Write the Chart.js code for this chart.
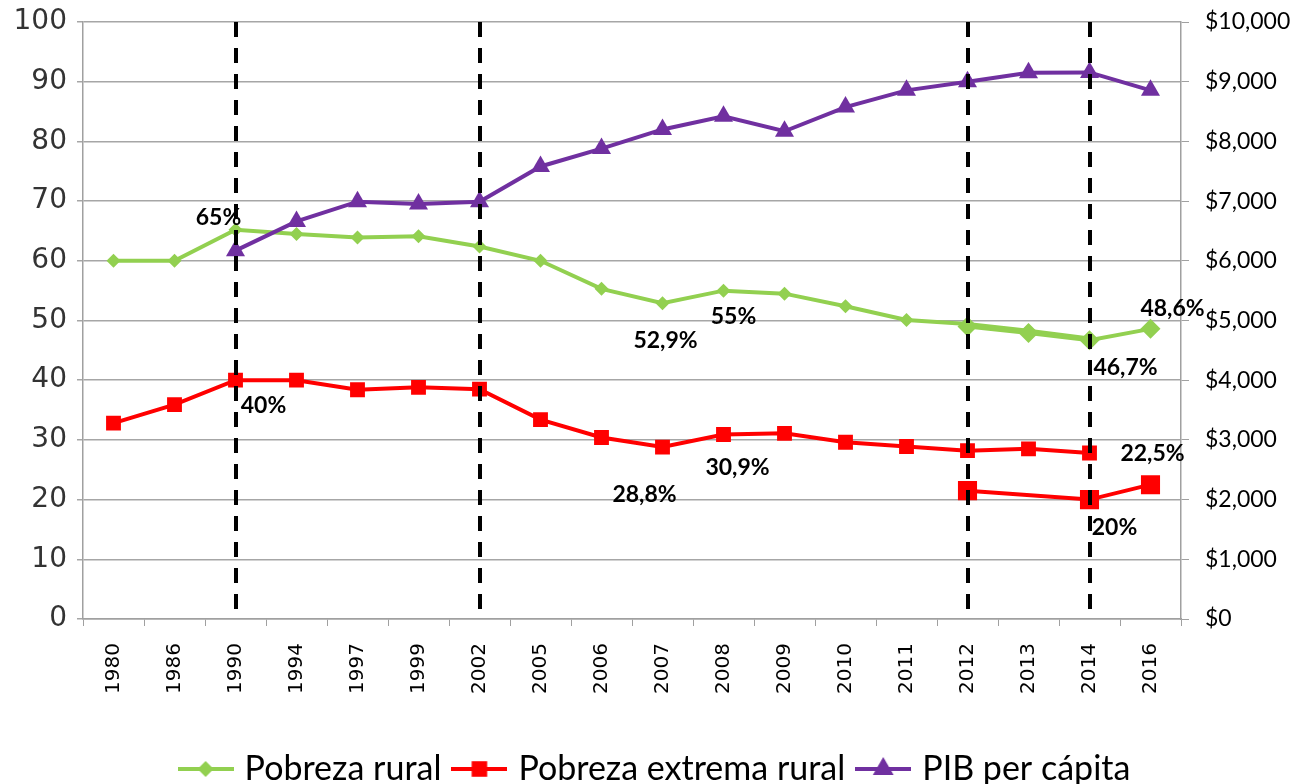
<!DOCTYPE html>
<html><head><meta charset="utf-8">
<script src="https://cdn.jsdelivr.net/npm/chart.js@4.4.0/dist/chart.umd.min.js"></script>
<style>html,body{margin:0;padding:0;background:#fff}#wrap{width:1314px;height:784px;position:relative}</style>
</head><body><div id="wrap"><canvas id="c"></canvas></div>
<script>
// ---- data ----
const years = ['1980','1986','1990','1994','1997','1999','2002','2005','2006','2007','2008','2009','2010','2011','2012','2013','2014','2016'];
const pobrezaRural =        [60.0,60.0,65.2,64.5,63.9,64.1,62.4,60.0,55.3,52.9,55.0,54.5,52.4,50.1,49.4,48.3,47.0,null];
const pobrezaRuralNueva =   [null,null,null,null,null,null,null,null,null,null,null,null,null,null,49.0,47.9,46.7,48.6];
const pobrezaExtrema =      [32.8,35.9,40.0,40.0,38.4,38.8,38.5,33.4,30.4,28.8,30.9,31.1,29.6,28.9,28.2,28.5,27.8,null];
const pobrezaExtremaNueva = [null,null,null,null,null,null,null,null,null,null,null,null,null,null,21.5,null,20.0,22.5];
const pibPerCapita =        [null,null,6170,6660,6990,6950,6990,7580,7880,8200,8420,8170,8575,8855,9000,9150,9155,8855];
const ruralLabels =         [null,null,'65%',null,null,null,null,null,null,'52,9%','55%',null,null,null,null,null,null,null];
const ruralNuevaLabels =    [null,null,null,null,null,null,null,null,null,null,null,null,null,null,null,null,'46,7%','48,6%'];
const extremaLabels =       [null,null,'40%',null,null,null,null,null,null,'28,8%','30,9%',null,null,null,null,null,null,null];
const extremaNuevaLabels =  [null,null,null,null,null,null,null,null,null,null,null,null,null,null,null,null,'20%','22,5%'];
const markerYears = ['1990','2002','2012','2014'];
const seriesNames = ['Pobreza rural','Pobreza extrema rural','PIB per cápita'];

// ---- styles ----
const GREEN = '#92D050', RED = '#FF0000', PURPLE = '#7030A0';
const labelOffsets = {
  '0-2': [-17,-12], '0-9': [3,37], '0-10': [10,26],
  '3-16': [36,27], '3-17': [22,-20],
  '1-2': [28,25], '1-9': [-18,48], '1-10': [14,33],
  '4-16': [25,28], '4-17': [2,-31]
};

function legendIcon(color, style, radius) {
  const c = document.createElement('canvas');
  c.width = 56; c.height = 30;
  const ctx = c.getContext('2d');
  ctx.strokeStyle = color; ctx.lineWidth = 4;
  ctx.beginPath(); ctx.moveTo(0, 15); ctx.lineTo(56, 15); ctx.stroke();
  ctx.fillStyle = color;
  Chart.helpers.drawPoint(ctx, {pointStyle: style, radius: radius, rotation: 0, borderWidth: 0}, 28, 15);
  return c;
}

const overlayPlugin = {
  id: 'overlay',
  afterLayout(chart) {
    const lg = chart.legend;
    if (lg) { const shift = 736 - lg.top; lg.top += shift; lg.bottom += shift; }
  },
  afterDatasetsDraw(chart) {
    const ctx = chart.ctx, area = chart.chartArea, xs = chart.scales.x;
    ctx.save();
    ctx.strokeStyle = '#000'; ctx.lineWidth = 4; ctx.setLineDash([15, 11]);
    markerYears.forEach(y => {
      const x = Math.round(xs.getPixelForValue(years.indexOf(y)));
      ctx.beginPath(); ctx.moveTo(x, area.top); ctx.lineTo(x, area.bottom); ctx.stroke();
    });
    ctx.restore();
    const sets = [[0, ruralLabels], [1, extremaLabels], [3, ruralNuevaLabels], [4, extremaNuevaLabels]];
    ctx.save();
    ctx.font = 'bold 23px Lato, "Open Sans", sans-serif';
    ctx.fillStyle = '#000'; ctx.textAlign = 'center'; ctx.textBaseline = 'middle';
    sets.forEach(([ds, arr]) => {
      const meta = chart.getDatasetMeta(ds);
      arr.forEach((t, i) => {
        if (!t) return;
        const p = meta.data[i];
        const off = labelOffsets[ds + '-' + i] || [0, -20];
        ctx.fillText(t, p.x + off[0], p.y + off[1]);
      });
    });
    ctx.restore();
  }
};

const icons = [legendIcon(GREEN, 'rectRot', 8), legendIcon(RED, 'rect', 11), legendIcon(PURPLE, 'triangle', 12)];

new Chart(document.getElementById('c'), {
  type: 'line',
  data: {
    labels: years,
    datasets: [
      {label: seriesNames[0], data: pobrezaRural, yAxisID: 'y', borderColor: GREEN, backgroundColor: GREEN, borderWidth: 4,
       pointStyle: 'rectRot', pointRadius: 7, pointBorderWidth: 0, order: 5},
      {label: seriesNames[1], data: pobrezaExtrema, yAxisID: 'y', borderColor: RED, backgroundColor: RED, borderWidth: 4,
       pointStyle: 'rect', pointRadius: 10.5, pointBorderWidth: 0, order: 4},
      {label: seriesNames[2], data: pibPerCapita, yAxisID: 'y2', borderColor: PURPLE, backgroundColor: PURPLE, borderWidth: 4,
       pointStyle: 'triangle', pointRadius: 11, pointBorderWidth: 0, order: 1},
      {label: 'rural-nueva', data: pobrezaRuralNueva, yAxisID: 'y', borderColor: GREEN, backgroundColor: GREEN, borderWidth: 4,
       pointStyle: 'rectRot', pointRadius: 10, pointBorderWidth: 0, order: 3},
      {label: 'extrema-nueva', data: pobrezaExtremaNueva, yAxisID: 'y', borderColor: RED, backgroundColor: RED, borderWidth: 4,
       pointStyle: 'rect', pointRadius: 13.5, pointBorderWidth: 0, spanGaps: true, order: 2}
    ]
  },
  options: {
    responsive: true, maintainAspectRatio: false, animation: false,
    layout: {padding: {top: 22, left: 0, right: 0, bottom: 0}},
    plugins: {
      tooltip: {enabled: false},
      legend: {
        position: 'bottom',
        labels: {
          usePointStyle: true, pointStyleWidth: 44, padding: 16, color: '#000',
          font: {family: 'Lato, "Open Sans", sans-serif', size: 34},
          filter: (item) => item.datasetIndex < 3,
          sort: (a, b) => a.datasetIndex - b.datasetIndex,
          generateLabels: (chart) => chart.data.datasets.map((d, i) => ({
            text: d.label, pointStyle: icons[i] || 'circle', fillStyle: d.borderColor, strokeStyle: d.borderColor,
            lineWidth: 0, hidden: false, datasetIndex: i, fontColor: '#000'
          }))
        }
      }
    },
    scales: {
      x: {
        type: 'category', offset: true,
        grid: {offset: true, drawOnChartArea: false, drawTicks: true, tickLength: 7, color: '#a0a0a0'},
        border: {color: '#a0a0a0', width: 1.5},
        ticks: {maxRotation: 90, minRotation: 90, autoSkip: false, padding: 17, color: '#000',
                font: {family: '"DejaVu Sans", Verdana, sans-serif', size: 20}},
        afterFit: (s) => { s.height = 105; }
      },
      y: {
        position: 'left', min: 0, max: 100,
        grid: {color: '#a6a6a6', lineWidth: 1.5, tickLength: 6},
        border: {color: '#a0a0a0', width: 1.5},
        ticks: {stepSize: 10, padding: 10, color: '#333', font: {family: '"DejaVu Sans", Verdana, sans-serif', size: 28}},
        afterFit: (s) => { s.width = 83; s.paddingTop = 0; s.paddingBottom = 0; }
      },
      y2: {
        position: 'right', min: 0, max: 10000,
        grid: {drawOnChartArea: false, color: '#a0a0a0', tickLength: 8},
        border: {color: '#a0a0a0', width: 1.5},
        ticks: {stepSize: 1000, padding: 16, color: '#000', font: {family: 'Lato, "Open Sans", sans-serif', size: 23},
                callback: (v) => '$' + Number(v).toLocaleString('en-US')},
        afterFit: (s) => { s.width = 133; s.paddingTop = 0; s.paddingBottom = 0; }
      }
    }
  },
  plugins: [overlayPlugin]
});
</script>
</body></html>
